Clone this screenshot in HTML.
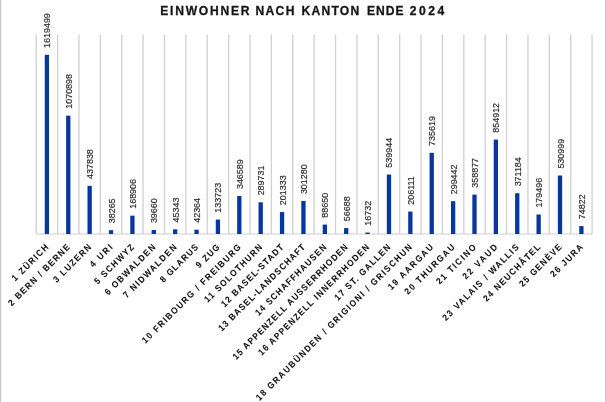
<!DOCTYPE html>
<html lang="de"><head><meta charset="utf-8"><title>Einwohner nach Kanton Ende 2024</title>
<style>html,body{margin:0;padding:0;background:#fff;}body{width:606px;height:402px;overflow:hidden;position:relative;font-family:"Liberation Sans",sans-serif;}svg{display:block;position:absolute;left:0;top:0;will-change:transform;}text{font-family:"Liberation Sans",sans-serif;}.t{font-weight:bold;fill:#161616;stroke:#161616;stroke-width:.3px;}.v{fill:#303030;stroke:#303030;stroke-width:.2px;}.c{fill:#101010;font-weight:bold;stroke:#101010;stroke-width:.08px;}</style></head><body>
<svg width="606" height="402" viewBox="0 0 606 402">
<rect x="0" y="0" width="606" height="402" fill="#ffffff"/>
<rect x="0" y="0" width="1" height="402" fill="#c6c6c6"/><rect x="1" y="0" width="1" height="402" fill="#f6f6f6"/>
<rect x="605" y="0" width="1" height="402" fill="#c9c6c6"/>
<g stroke="#d2d2d2" stroke-width="1.35" fill="none"><line x1="36.20" y1="34.4" x2="36.20" y2="234.0"/><line x1="57.58" y1="34.4" x2="57.58" y2="234.0"/><line x1="78.96" y1="34.4" x2="78.96" y2="234.0"/><line x1="100.34" y1="34.4" x2="100.34" y2="234.0"/><line x1="121.72" y1="34.4" x2="121.72" y2="234.0"/><line x1="143.10" y1="34.4" x2="143.10" y2="234.0"/><line x1="164.48" y1="34.4" x2="164.48" y2="234.0"/><line x1="185.86" y1="34.4" x2="185.86" y2="234.0"/><line x1="207.24" y1="34.4" x2="207.24" y2="234.0"/><line x1="228.62" y1="34.4" x2="228.62" y2="234.0"/><line x1="250.00" y1="34.4" x2="250.00" y2="234.0"/><line x1="271.38" y1="34.4" x2="271.38" y2="234.0"/><line x1="292.76" y1="34.4" x2="292.76" y2="234.0"/><line x1="314.14" y1="34.4" x2="314.14" y2="234.0"/><line x1="335.52" y1="34.4" x2="335.52" y2="234.0"/><line x1="356.90" y1="34.4" x2="356.90" y2="234.0"/><line x1="378.28" y1="34.4" x2="378.28" y2="234.0"/><line x1="399.66" y1="34.4" x2="399.66" y2="234.0"/><line x1="421.04" y1="34.4" x2="421.04" y2="234.0"/><line x1="442.42" y1="34.4" x2="442.42" y2="234.0"/><line x1="463.80" y1="34.4" x2="463.80" y2="234.0"/><line x1="485.18" y1="34.4" x2="485.18" y2="234.0"/><line x1="506.56" y1="34.4" x2="506.56" y2="234.0"/><line x1="527.94" y1="34.4" x2="527.94" y2="234.0"/><line x1="549.32" y1="34.4" x2="549.32" y2="234.0"/><line x1="570.70" y1="34.4" x2="570.70" y2="234.0"/><line x1="592.08" y1="34.4" x2="592.08" y2="234.0"/></g>
<line x1="36.20" y1="234.0" x2="592.08" y2="234.0" stroke="#cdcdcd" stroke-width="1"/>
<g fill="#0836a0"><rect x="44.74" y="54.82" width="4.3" height="179.18"/><rect x="66.12" y="115.65" width="4.3" height="118.35"/><rect x="87.50" y="185.85" width="4.3" height="48.15"/><rect x="108.88" y="230.16" width="4.3" height="3.84"/><rect x="130.26" y="215.67" width="4.3" height="18.33"/><rect x="151.64" y="230.00" width="4.3" height="4.00"/><rect x="173.02" y="229.37" width="4.3" height="4.63"/><rect x="194.40" y="229.70" width="4.3" height="4.30"/><rect x="215.78" y="219.57" width="4.3" height="14.43"/><rect x="237.16" y="195.97" width="4.3" height="38.03"/><rect x="258.54" y="202.27" width="4.3" height="31.73"/><rect x="279.92" y="212.07" width="4.3" height="21.93"/><rect x="301.30" y="200.99" width="4.3" height="33.01"/><rect x="322.68" y="224.57" width="4.3" height="9.43"/><rect x="344.06" y="228.11" width="4.3" height="5.89"/><rect x="365.44" y="232.54" width="4.3" height="1.46"/><rect x="386.82" y="174.53" width="4.3" height="59.47"/><rect x="408.20" y="211.54" width="4.3" height="22.46"/><rect x="429.58" y="152.83" width="4.3" height="81.17"/><rect x="450.96" y="201.20" width="4.3" height="32.80"/><rect x="472.34" y="194.60" width="4.3" height="39.40"/><rect x="493.72" y="139.60" width="4.3" height="94.40"/><rect x="515.10" y="193.24" width="4.3" height="40.76"/><rect x="536.48" y="214.50" width="4.3" height="19.50"/><rect x="557.86" y="175.52" width="4.3" height="58.48"/><rect x="579.24" y="226.10" width="4.3" height="7.90"/></g>
<text class="t" font-size="12.1" x="160.30" y="14.7" textLength="89.20" lengthAdjust="spacing">EINWOHNER</text>
<text class="t" font-size="12.1" x="255.40" y="14.7" textLength="39.00" lengthAdjust="spacing">NACH</text>
<text class="t" font-size="12.1" x="301.60" y="14.7" textLength="57.60" lengthAdjust="spacing">KANTON</text>
<text class="t" font-size="12.1" x="367.00" y="14.7" textLength="36.60" lengthAdjust="spacing">ENDE</text>
<text class="t" font-size="12.1" x="409.80" y="14.7" textLength="34.40" lengthAdjust="spacing">2024</text>
<text class="v" font-size="9.6" transform="translate(50.39,47.92) rotate(-90) scale(0.93,1)">1619499</text>
<text class="v" font-size="9.6" transform="translate(71.77,108.75) rotate(-90) scale(0.93,1)">1070898</text>
<text class="v" font-size="9.6" transform="translate(93.15,178.95) rotate(-90) scale(0.93,1)">437838</text>
<text class="v" font-size="9.6" transform="translate(114.53,223.26) rotate(-90) scale(0.93,1)">38265</text>
<text class="v" font-size="9.6" transform="translate(135.91,208.77) rotate(-90) scale(0.93,1)">168906</text>
<text class="v" font-size="9.6" transform="translate(157.29,223.10) rotate(-90) scale(0.93,1)">39660</text>
<text class="v" font-size="9.6" transform="translate(178.67,222.47) rotate(-90) scale(0.93,1)">45343</text>
<text class="v" font-size="9.6" transform="translate(200.05,222.80) rotate(-90) scale(0.93,1)">42364</text>
<text class="v" font-size="9.6" transform="translate(221.43,212.67) rotate(-90) scale(0.93,1)">133723</text>
<text class="v" font-size="9.6" transform="translate(242.81,189.07) rotate(-90) scale(0.93,1)">346589</text>
<text class="v" font-size="9.6" transform="translate(264.19,195.37) rotate(-90) scale(0.93,1)">289731</text>
<text class="v" font-size="9.6" transform="translate(285.57,205.17) rotate(-90) scale(0.93,1)">201333</text>
<text class="v" font-size="9.6" transform="translate(306.95,194.09) rotate(-90) scale(0.93,1)">301280</text>
<text class="v" font-size="9.6" transform="translate(328.33,217.67) rotate(-90) scale(0.93,1)">88650</text>
<text class="v" font-size="9.6" transform="translate(349.71,221.21) rotate(-90) scale(0.93,1)">56688</text>
<text class="v" font-size="9.6" transform="translate(371.09,225.64) rotate(-90) scale(0.93,1)">16732</text>
<text class="v" font-size="9.6" transform="translate(392.47,167.63) rotate(-90) scale(0.93,1)">539944</text>
<text class="v" font-size="9.6" transform="translate(413.85,204.64) rotate(-90) scale(0.93,1)">206111</text>
<text class="v" font-size="9.6" transform="translate(435.23,145.93) rotate(-90) scale(0.93,1)">735619</text>
<text class="v" font-size="9.6" transform="translate(456.61,194.30) rotate(-90) scale(0.93,1)">299442</text>
<text class="v" font-size="9.6" transform="translate(477.99,187.70) rotate(-90) scale(0.93,1)">358877</text>
<text class="v" font-size="9.6" transform="translate(499.37,132.70) rotate(-90) scale(0.93,1)">854912</text>
<text class="v" font-size="9.6" transform="translate(520.75,186.34) rotate(-90) scale(0.93,1)">371184</text>
<text class="v" font-size="9.6" transform="translate(542.13,207.60) rotate(-90) scale(0.93,1)">179496</text>
<text class="v" font-size="9.6" transform="translate(563.51,168.62) rotate(-90) scale(0.93,1)">530999</text>
<text class="v" font-size="9.6" transform="translate(584.89,219.20) rotate(-90) scale(0.93,1)">74822</text>
<text class="c" font-size="9.0" text-anchor="end" textLength="51.70" lengthAdjust="spacing" transform="translate(48.99,247.90) rotate(-45) scale(0.92,1)">1 ZÜRICH</text>
<text class="c" font-size="9.0" text-anchor="end" textLength="90.13" lengthAdjust="spacing" transform="translate(70.37,247.90) rotate(-45) scale(0.92,1)">2 BERN / BERNE</text>
<text class="c" font-size="9.0" text-anchor="end" textLength="53.80" lengthAdjust="spacing" transform="translate(91.75,247.90) rotate(-45) scale(0.92,1)">3 LUZERN</text>
<text class="c" font-size="9.0" text-anchor="end" textLength="30.52" lengthAdjust="spacing" transform="translate(113.13,247.90) rotate(-45) scale(0.92,1)">4 URI</text>
<text class="c" font-size="9.0" text-anchor="end" textLength="56.52" lengthAdjust="spacing" transform="translate(134.51,247.90) rotate(-45) scale(0.92,1)">5 SCHWYZ</text>
<text class="c" font-size="9.0" text-anchor="end" textLength="73.17" lengthAdjust="spacing" transform="translate(155.89,247.90) rotate(-45) scale(0.92,1)">6 OBWALDEN</text>
<text class="c" font-size="9.0" text-anchor="end" textLength="77.85" lengthAdjust="spacing" transform="translate(177.27,247.90) rotate(-45) scale(0.92,1)">7 NIDWALDEN</text>
<text class="c" font-size="9.0" text-anchor="end" textLength="53.92" lengthAdjust="spacing" transform="translate(198.65,247.90) rotate(-45) scale(0.92,1)">8 GLARUS</text>
<text class="c" font-size="9.0" text-anchor="end" textLength="31.87" lengthAdjust="spacing" transform="translate(220.03,247.90) rotate(-45) scale(0.92,1)">9 ZUG</text>
<text class="c" font-size="9.0" text-anchor="end" textLength="147.45" lengthAdjust="spacing" transform="translate(241.41,247.90) rotate(-45) scale(0.92,1)">10 FRIBOURG / FREIBURG</text>
<text class="c" font-size="9.0" text-anchor="end" textLength="84.44" lengthAdjust="spacing" transform="translate(262.79,247.90) rotate(-45) scale(0.92,1)">11 SOLOTHURN</text>
<text class="c" font-size="9.0" text-anchor="end" textLength="91.44" lengthAdjust="spacing" transform="translate(284.17,247.90) rotate(-45) scale(0.92,1)">12 BASEL-STADT</text>
<text class="c" font-size="9.0" text-anchor="end" textLength="128.53" lengthAdjust="spacing" transform="translate(305.55,247.90) rotate(-45) scale(0.92,1)">13 BASEL-LANDSCHAFT</text>
<text class="c" font-size="9.0" text-anchor="end" textLength="104.80" lengthAdjust="spacing" transform="translate(326.93,247.90) rotate(-45) scale(0.92,1)">14 SCHAFFHAUSEN</text>
<text class="c" font-size="9.0" text-anchor="end" textLength="172.43" lengthAdjust="spacing" transform="translate(348.31,247.90) rotate(-45) scale(0.92,1)">15 APPENZELL AUSSERRHODEN</text>
<text class="c" font-size="9.0" text-anchor="end" textLength="165.78" lengthAdjust="spacing" transform="translate(369.69,247.90) rotate(-45) scale(0.92,1)">16 APPENZELL INNERRHODEN</text>
<text class="c" font-size="9.0" text-anchor="end" textLength="81.54" lengthAdjust="spacing" transform="translate(391.07,247.90) rotate(-45) scale(0.92,1)">17 ST. GALLEN</text>
<text class="c" font-size="9.0" text-anchor="end" textLength="235.17" lengthAdjust="spacing" transform="translate(412.45,247.90) rotate(-45) scale(0.92,1)">18 GRAUBÜNDEN / GRIGIONI / GRISCHUN</text>
<text class="c" font-size="9.0" text-anchor="end" textLength="65.13" lengthAdjust="spacing" transform="translate(433.83,247.90) rotate(-45) scale(0.92,1)">19 AARGAU</text>
<text class="c" font-size="9.0" text-anchor="end" textLength="72.45" lengthAdjust="spacing" transform="translate(455.21,247.90) rotate(-45) scale(0.92,1)">20 THURGAU</text>
<text class="c" font-size="9.0" text-anchor="end" textLength="56.78" lengthAdjust="spacing" transform="translate(476.59,247.90) rotate(-45) scale(0.92,1)">21 TICINO</text>
<text class="c" font-size="9.0" text-anchor="end" textLength="49.14" lengthAdjust="spacing" transform="translate(497.97,247.90) rotate(-45) scale(0.92,1)">22 VAUD</text>
<text class="c" font-size="9.0" text-anchor="end" textLength="112.69" lengthAdjust="spacing" transform="translate(519.35,247.90) rotate(-45) scale(0.92,1)">23 VALAIS / WALLIS</text>
<text class="c" font-size="9.0" text-anchor="end" textLength="83.05" lengthAdjust="spacing" transform="translate(540.73,247.90) rotate(-45) scale(0.92,1)">24 NEUCHÂTEL</text>
<text class="c" font-size="9.0" text-anchor="end" textLength="60.56" lengthAdjust="spacing" transform="translate(562.11,247.90) rotate(-45) scale(0.92,1)">25 GENÈVE</text>
<text class="c" font-size="9.0" text-anchor="end" textLength="45.56" lengthAdjust="spacing" transform="translate(583.49,247.90) rotate(-45) scale(0.92,1)">26 JURA</text>
</svg></body></html>
